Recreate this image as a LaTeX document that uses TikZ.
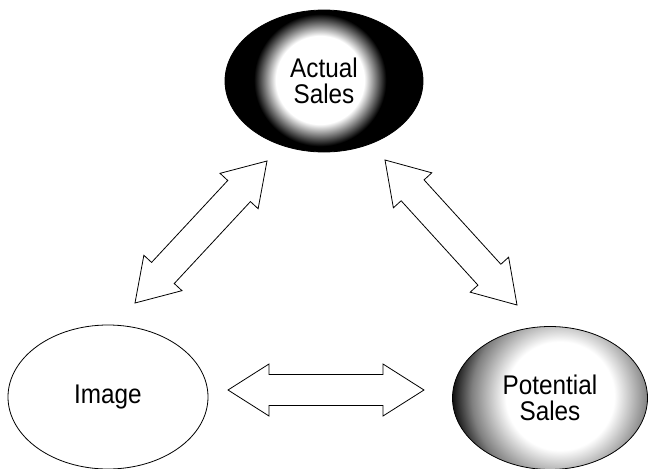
\documentclass[tikz,border=0pt]{standalone}
\usepackage{fontspec}
\setmainfont{Liberation Sans}[FakeStretch=0.9]
\usetikzlibrary{shapes.geometric,calc}
\pgfdeclareradialshading{actualglow}{\pgfpoint{0bp}{0bp}}{color(0bp)=(white); color(44bp)=(white); color(56bp)=(black!55); color(66bp)=(black); color(120bp)=(black)}
\pgfdeclareradialshading{potentialglow}{\pgfpoint{0bp}{0bp}}{color(0bp)=(white); color(54bp)=(white); color(88bp)=(black!50); color(110bp)=(black); color(150bp)=(black)}
\begin{document}
\begin{tikzpicture}[x=1pt,y=-1pt,
	blob/.style={ellipse,draw,line width=0.8pt,fill=white,inner sep=0pt,font=\fontsize{27}{26}\selectfont,align=center},
	hollow/.style={draw,line width=0.8pt,fill=white,line join=miter}]
			\def\hl{41pt} % head length
			\def\hw{26pt} % half head width
			\def\sw{15.5pt} % half shaft width
			\def\dblarrow#1#2{%
				\coordinate (h1) at ($(#1)!\hl!(#2)$);
				\coordinate (h2) at ($(#2)!\hl!(#1)$);
				\draw[hollow] (#1) -- ($(h1)!\hw!90:(#2)$) -- ($(h1)!\sw!90:(#2)$) -- ($(h2)!\sw!-90:(#1)$) -- ($(h2)!\hw!-90:(#1)$) -- (#2)
					-- ($(h2)!\hw!90:(#1)$) -- ($(h2)!\sw!90:(#1)$) -- ($(h1)!\sw!-90:(#2)$) -- ($(h1)!\hw!-90:(#2)$) -- cycle;}
			\useasboundingbox (0,0) rectangle (649,469);
			% the three ellipses
			\node[blob,minimum width=198pt,minimum height=142pt,
				path picture={\node[inner sep=0pt] at ([shift={(-4,-1)}]path picture bounding box.center) {\pgfuseshading{actualglow}};}]
				(act) at (324,81) {Actual\\Sales};
			\node[blob,minimum width=200pt,minimum height=144pt] (img) at (108,397) {Image};
			\node[blob,minimum width=195pt,minimum height=143pt,
				path picture={\node[inner sep=0pt] at ([shift={(10,-2)}]path picture bounding box.center) {\pgfuseshading{potentialglow}};}]
				(pot) at (550,398) {Potential\\Sales};
			% arrow tips
			\coordinate (actL) at (267,161);
			\coordinate (imgT) at (135,303);
			\coordinate (actR) at (385,160);
			\coordinate (potT) at (517,305);
			\coordinate (imgR) at (228,390);
			\coordinate (potL) at (424,390);
			\dblarrow{actL}{imgT}
			\dblarrow{actR}{potT}
			\dblarrow{imgR}{potL}
\end{tikzpicture}
\end{document}
